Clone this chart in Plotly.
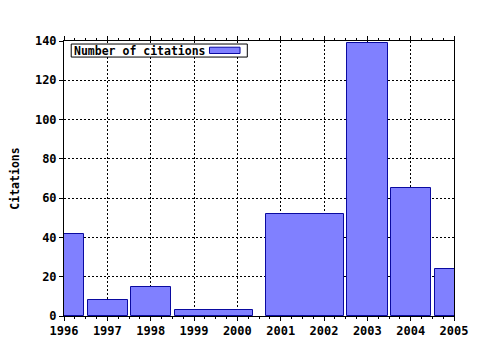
import plotly.graph_objects as go

# Data
labels = ["1996", "1997", "1998", "1999-2000", "2001-2002", "2003", "2004", "2005"]
bar_start = [1995.53, 1996.554, 1997.556, 1998.559, 2000.655, 2002.539, 2003.54, 2004.55]
bar_end = [1996.47, 1997.474, 1998.477, 2000.368, 2002.464, 2003.466, 2004.47, 2005.47]
citations = [42, 8, 15, 3, 52, 139, 65, 24]
year_ticks = list(range(1996, 2006))
series_name = "Number of citations"

centers = [(a + b) / 2 for a, b in zip(bar_start, bar_end)]
widths = [b - a for a, b in zip(bar_start, bar_end)]

FONT = "DejaVu Sans Mono"
fill = "rgb(128,128,255)"
edge = "rgb(10,10,160)"

fig = go.Figure()
fig.add_trace(go.Bar(
    x=centers, y=citations, width=widths, name=series_name,
    marker=dict(color=fill, line=dict(color=edge, width=1)),
    showlegend=False, hovertext=labels,
))

fig.update_layout(
    width=480, height=350,
    margin=dict(l=64, r=21, t=41, b=30),
    paper_bgcolor="white", plot_bgcolor="white",
    font=dict(family=FONT, size=12, color="black", weight="bold"),
    bargap=0,
)
fig.update_xaxes(
    range=[1996, 2005], tickvals=year_ticks, ticktext=[str(y) for y in year_ticks],
    showline=True, linecolor="black", linewidth=1, mirror="allticks",
    ticks="outside", ticklen=4, tickcolor="black",
    minor=dict(dtick=0.25, ticks="outside", ticklen=2, tickcolor="black", showgrid=False),
    showgrid=True, gridcolor="black", griddash="2px,2px", gridwidth=1,
    tickfont=dict(family=FONT, size=12, weight="bold"), zeroline=False,
)
fig.update_yaxes(
    range=[0, 140], dtick=20,
    showline=True, linecolor="black", linewidth=1, mirror=True,
    ticks="outside", ticklen=4, tickcolor="black",
    showgrid=True, gridcolor="black", griddash="2px,2px", gridwidth=1,
    tickfont=dict(family=FONT, size=12, weight="bold"), zeroline=False,
    title=dict(text="Citations", font=dict(family=FONT, size=11.5, weight="bold"), standoff=12),
)

# legend box drawn manually (swatch to the right of the text)
fig.add_shape(type="rect", xref="paper", yref="paper", x0=0.0185, x1=0.470, y0=0.9416, y1=0.989,
              line=dict(color="black", width=1), fillcolor="white")
fig.add_shape(type="rect", xref="paper", yref="paper", x0=0.373, x1=0.4514, y0=0.9545, y1=0.9774,
              line=dict(color=edge, width=1), fillcolor=fill)
fig.add_annotation(xref="paper", yref="paper", x=0.0215, y=0.9652, xanchor="left", yanchor="middle",
                   text=series_name, showarrow=False,
                   font=dict(family=FONT, size=11.5, weight="bold", color="black"))

fig.write_html("out.html")
